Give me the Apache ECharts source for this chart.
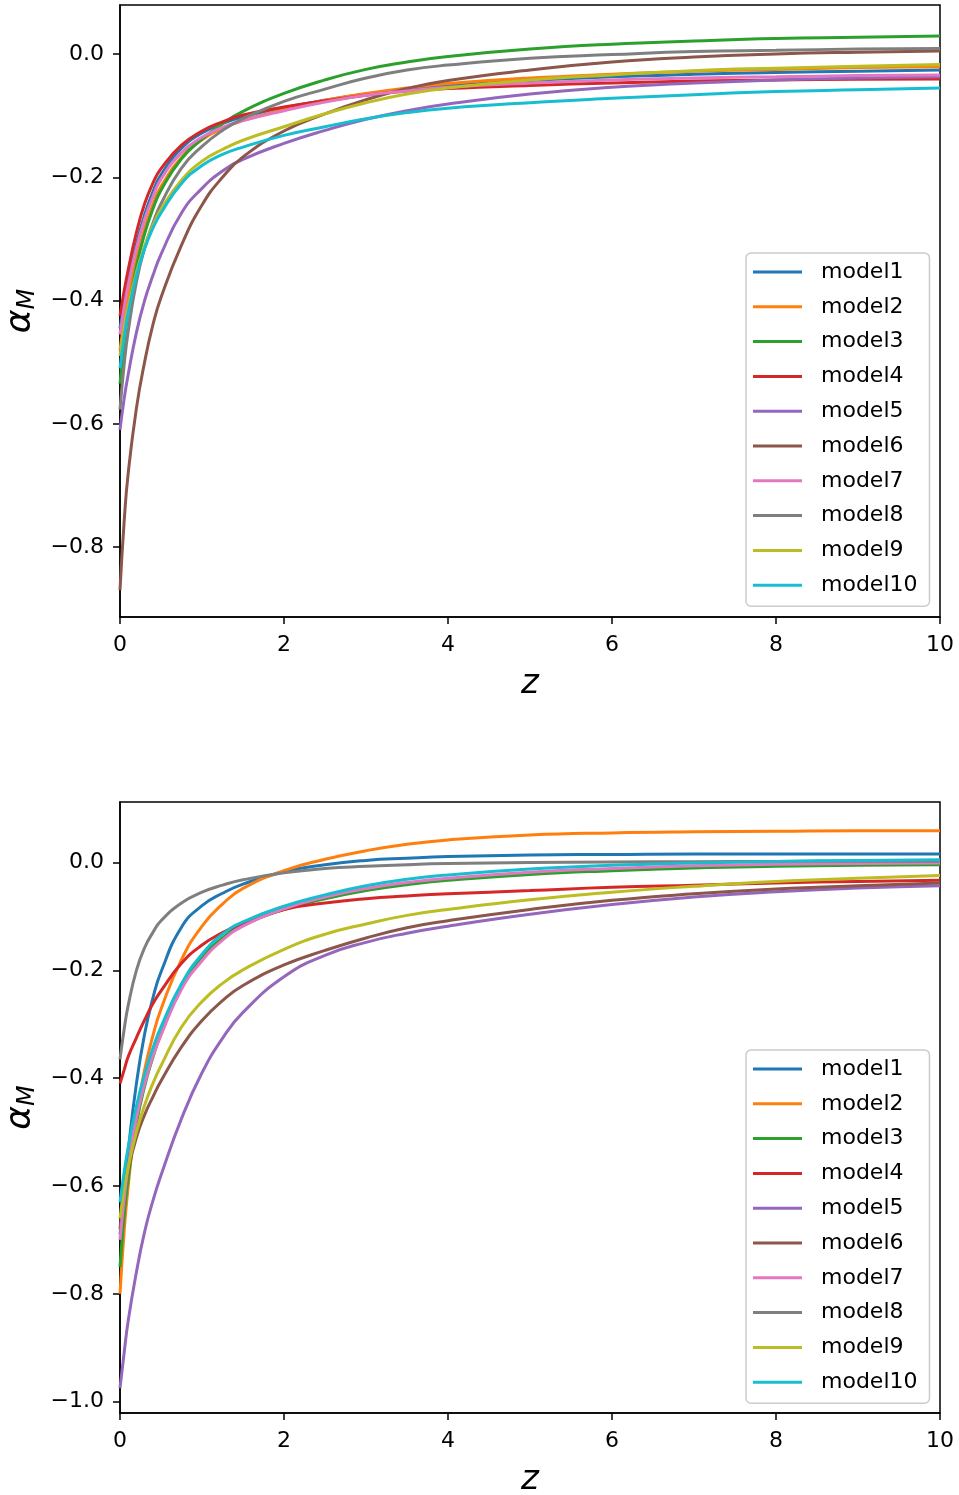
<!DOCTYPE html>
<html>
<head>
<meta charset="utf-8">
<script src="https://cdn.jsdelivr.net/npm/echarts@6/dist/echarts.min.js"></script>
<style>
html,body{margin:0;padding:0;background:#fff;}
#chart{width:959px;height:1495px;}
</style>
</head>
<body>
<div id="chart"></div>
<script>
// shared z sampling grid
const zGrid = [0, 0.05, 0.1, 0.2, 0.3, 0.4, 0.5, 0.75, 1, 1.25, 1.5, 2, 2.5, 3, 3.5, 4, 5, 6, 7, 8, 9, 10];
const modelNames = ['model1','model2','model3','model4','model5','model6','model7','model8','model9','model10'];
const xTicks = [0, 2, 4, 6, 8, 10];
const yTicksTop = [-0.8, -0.6, -0.4, -0.2, 0.0];
const yTicksBot = [-1.0, -0.8, -0.6, -0.4, -0.2, 0.0];

// top panel
const top_model1  = [-0.445,-0.405,-0.368,-0.308,-0.261,-0.224,-0.196,-0.153,-0.128,-0.113,-0.102,-0.087,-0.075,-0.065,-0.057,-0.051,-0.043,-0.037,-0.033,-0.03,-0.028,-0.026];
const top_model2  = [-0.48,-0.435,-0.395,-0.333,-0.283,-0.245,-0.215,-0.168,-0.139,-0.121,-0.108,-0.09,-0.075,-0.064,-0.055,-0.048,-0.039,-0.033,-0.028,-0.025,-0.022,-0.0206];
const top_model3  = [-0.535,-0.47,-0.42,-0.345,-0.292,-0.252,-0.221,-0.17,-0.138,-0.113,-0.093,-0.064,-0.042,-0.025,-0.013,-0.004,0.008,0.016,0.021,0.025,0.027,0.029];
const top_model4  = [-0.425,-0.385,-0.35,-0.29,-0.243,-0.21,-0.186,-0.148,-0.125,-0.11,-0.099,-0.086,-0.076,-0.067,-0.06,-0.056,-0.051,-0.047,-0.044,-0.042,-0.041,-0.0405];
const top_model5  = [-0.61,-0.56,-0.52,-0.452,-0.4,-0.36,-0.325,-0.258,-0.218,-0.19,-0.171,-0.145,-0.124,-0.106,-0.092,-0.081,-0.065,-0.054,-0.047,-0.042,-0.039,-0.037];
const top_model6  = [-0.87,-0.76,-0.68,-0.575,-0.5,-0.44,-0.395,-0.31,-0.245,-0.2,-0.167,-0.125,-0.097,-0.074,-0.056,-0.043,-0.026,-0.013,-0.005,0.0,0.003,0.005];
const top_model7  = [-0.455,-0.412,-0.375,-0.315,-0.268,-0.232,-0.203,-0.16,-0.135,-0.119,-0.108,-0.092,-0.078,-0.067,-0.06,-0.054,-0.047,-0.042,-0.039,-0.037,-0.035,-0.034];
const top_model8  = [-0.577,-0.505,-0.45,-0.37,-0.315,-0.275,-0.243,-0.185,-0.15,-0.124,-0.105,-0.077,-0.057,-0.039,-0.026,-0.018,-0.007,-0.001,0.004,0.006,0.008,0.009];
const top_model9  = [-0.49,-0.445,-0.41,-0.355,-0.312,-0.279,-0.252,-0.205,-0.174,-0.155,-0.14,-0.118,-0.097,-0.079,-0.065,-0.055,-0.042,-0.034,-0.027,-0.023,-0.02,-0.017];
const top_model10 = [-0.51,-0.46,-0.42,-0.36,-0.316,-0.283,-0.258,-0.21,-0.181,-0.163,-0.151,-0.132,-0.118,-0.105,-0.095,-0.088,-0.079,-0.072,-0.066,-0.061,-0.058,-0.055];

// bottom panel
const bot_model1  = [-0.69,-0.61,-0.535,-0.41,-0.318,-0.252,-0.203,-0.12,-0.08,-0.057,-0.04,-0.017,-0.004,0.004,0.008,0.011,0.014,0.015,0.016,0.016,0.016,0.016];
const bot_model2  = [-0.8,-0.685,-0.6,-0.47,-0.385,-0.322,-0.272,-0.18,-0.118,-0.077,-0.048,-0.015,0.006,0.022,0.034,0.042,0.051,0.055,0.057,0.058,0.059,0.059];
const bot_model3  = [-0.75,-0.655,-0.585,-0.485,-0.415,-0.362,-0.318,-0.232,-0.176,-0.14,-0.116,-0.087,-0.067,-0.052,-0.041,-0.033,-0.022,-0.015,-0.01,-0.007,-0.005,-0.004];
const bot_model4  = [-0.41,-0.385,-0.36,-0.325,-0.292,-0.262,-0.238,-0.187,-0.153,-0.13,-0.113,-0.087,-0.075,-0.067,-0.062,-0.058,-0.052,-0.046,-0.042,-0.038,-0.035,-0.033];
const bot_model5  = [-0.975,-0.91,-0.85,-0.76,-0.685,-0.628,-0.58,-0.475,-0.39,-0.326,-0.278,-0.212,-0.172,-0.148,-0.131,-0.118,-0.096,-0.078,-0.064,-0.054,-0.047,-0.043];
const bot_model6  = [-0.68,-0.615,-0.57,-0.51,-0.468,-0.435,-0.405,-0.342,-0.293,-0.256,-0.228,-0.19,-0.163,-0.14,-0.121,-0.108,-0.087,-0.07,-0.058,-0.049,-0.043,-0.038];
const bot_model7  = [-0.70,-0.625,-0.565,-0.475,-0.41,-0.36,-0.32,-0.235,-0.182,-0.144,-0.118,-0.086,-0.064,-0.048,-0.037,-0.029,-0.018,-0.011,-0.006,-0.003,-0.002,-0.001];
const bot_model8  = [-0.365,-0.31,-0.265,-0.2,-0.158,-0.13,-0.108,-0.075,-0.055,-0.042,-0.032,-0.019,-0.011,-0.007,-0.004,-0.002,0.0,0.001,0.0015,0.002,0.0025,0.0025];
const bot_model9  = [-0.66,-0.605,-0.565,-0.5,-0.45,-0.41,-0.377,-0.305,-0.258,-0.224,-0.199,-0.161,-0.133,-0.114,-0.098,-0.087,-0.069,-0.055,-0.044,-0.035,-0.029,-0.024];
const bot_model10 = [-0.63,-0.575,-0.528,-0.452,-0.393,-0.345,-0.305,-0.225,-0.17,-0.133,-0.11,-0.081,-0.06,-0.043,-0.031,-0.023,-0.012,-0.005,-0.001,0.002,0.004,0.005];

const topSets = [top_model1,top_model2,top_model3,top_model4,top_model5,top_model6,top_model7,top_model8,top_model9,top_model10];
const botSets = [bot_model1,bot_model2,bot_model3,bot_model4,bot_model5,bot_model6,bot_model7,bot_model8,bot_model9,bot_model10];
const colors = ['#1f77b4','#ff7f0e','#2ca02c','#d62728','#9467bd','#8c564b','#e377c2','#7f7f7f','#bcbd22','#17becf'];

const FONT = 'DejaVu Sans';
function pairs(vals){ return zGrid.map((z,i)=>[z, vals[i]]); }
function fmt(v){ const a = Math.abs(v).toFixed(1); return (v < -1e-9 ? '\u2212' : '') + a; }

function xAxisFor(idx){
  return {
    gridIndex: idx, type: 'value', min: 0, max: 10, interval: 2,
    name: 'z', nameLocation: 'middle', nameGap: 50,
    nameTextStyle: {fontFamily: FONT, fontSize: 34, fontStyle: 'italic', color: '#000'},
    axisLine: {show: true, onZero: false, lineStyle: {color: '#000', width: 1.5}},
    axisTick: {show: true, length: 7, lineStyle: {color: '#000', width: 1.5}},
    axisLabel: {fontFamily: FONT, fontSize: 22, color: '#000', margin: 17},
    splitLine: {show: false}
  };
}
function yAxisFor(idx, mn, mx, ticks){
  return {
    gridIndex: idx, type: 'value', min: mn, max: mx,
    name: '{a|\u03b1}{b|M}', nameLocation: 'middle', nameGap: 78, nameRotate: 90,
    nameTextStyle: {
      color: '#000',
      rich: {
        a: {fontFamily: FONT, fontSize: 36, fontStyle: 'italic', color: '#000', lineHeight: 40},
        b: {fontFamily: FONT, fontSize: 24, fontStyle: 'italic', color: '#000', lineHeight: 40, padding: [14, 0, 0, 0]}
      }
    },
    axisLine: {show: true, onZero: false, lineStyle: {color: '#000', width: 1.5}},
    axisTick: {show: true, length: 7, lineStyle: {color: '#000', width: 1.5}, customValues: ticks},
    axisLabel: {fontFamily: FONT, fontSize: 22, color: '#000', margin: 16, customValues: ticks, formatter: fmt},
    splitLine: {show: false}
  };
}
function legendFor(top){
  return {
    orient: 'vertical', left: 746, top: top,
    data: modelNames,
    icon: 'rect', itemWidth: 49, itemHeight: 3, itemGap: 12.8,
    padding: [8, 12, 10, 7],
    backgroundColor: 'rgba(255,255,255,0.8)', borderColor: '#cccccc', borderWidth: 1.5, borderRadius: 5,
    textStyle: {fontFamily: FONT, fontSize: 22, color: '#000', lineHeight: 20, padding: [0, 0, 0, 14]},
    selectedMode: false
  };
}

const series = [];
[topSets, botSets].forEach((sets, g) => {
  sets.forEach((vals, i) => {
    series.push({
      name: modelNames[i], type: 'line', xAxisIndex: g, yAxisIndex: g,
      data: pairs(vals), showSymbol: false, symbol: 'none',
      smooth: 0.5,
      lineStyle: {color: colors[i], width: 3}, itemStyle: {color: colors[i]},
      clip: true, animation: false, z: 2
    });
  });
});

const chart = echarts.init(document.getElementById('chart'), null, {renderer: 'canvas'});
chart.setOption({
  animation: false,
  backgroundColor: '#fff',
  color: colors,
  grid: [
    {left: 120, top: 5, width: 820, height: 612, outerBoundsMode: 'none', containLabel: false, show: true, borderColor: '#000', borderWidth: 1.5, backgroundColor: 'transparent'},
    {left: 120, top: 802, width: 820, height: 611, outerBoundsMode: 'none', containLabel: false, show: true, borderColor: '#000', borderWidth: 1.5, backgroundColor: 'transparent'}
  ],
  xAxis: [xAxisFor(0), xAxisFor(1)],
  yAxis: [yAxisFor(0, -0.9135, 0.0795, yTicksTop), yAxisFor(1, -1.021, 0.1123, yTicksBot)],
  legend: [legendFor(253), legendFor(1050)],
  series: series
});
</script>
</body>
</html>
